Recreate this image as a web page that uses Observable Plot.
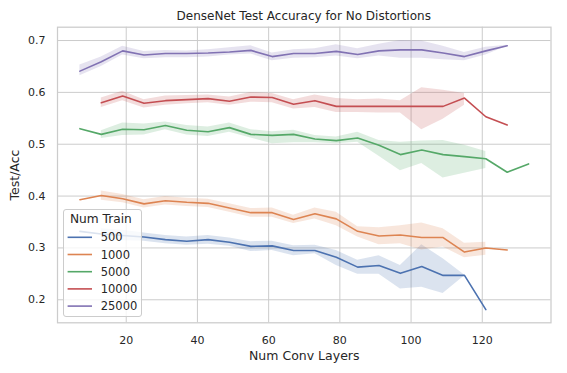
<!DOCTYPE html>
<html><head><meta charset="utf-8">
<script src="https://cdn.jsdelivr.net/npm/d3@7"></script>
<script src="https://cdn.jsdelivr.net/npm/@observablehq/plot@0.6"></script>
<style>
body{margin:0;background:#fff;font-family:"DejaVu Sans",sans-serif;color:#262626}
#wrap{position:relative;width:567px;height:373px;overflow:hidden}
#title{height:22px;box-sizing:border-box;padding-top:9px;padding-left:40.5px;line-height:14px;font-size:12px;text-align:center;white-space:nowrap}
#legend{position:absolute;left:62.7px;top:209px;width:79.6px;height:107.7px;box-sizing:border-box;border:1px solid #cccccc;border-radius:3px;background:rgba(255,255,255,0.8)}
#legend .t{position:absolute;left:6.3px;line-height:14px;white-space:nowrap;font-size:12.2px}
#legend svg.sw{position:absolute;left:0;top:0;overflow:visible}
#legend .lb{position:absolute;left:37px;line-height:14px;white-space:nowrap;font-size:11.5px}
svg{display:block}
</style>
</head><body>
<div id="wrap">
<div id="title">DenseNet Test Accuracy for No Distortions</div>
<div id="chart"></div>
<div id="legend"></div>
</div>
<script>
const xLayers = [7,13,19,25,31,37,43,49,55,61,67,73,79,85,91,97,103,109,115,121,127,133];
const seriesNames = ["500","1000","5000","10000","25000"];
const palette = ["#4c72b0","#dd8452","#55a868","#c44e52","#8172b3"];
const xTicks = [20,40,60,80,100,120];
const yTicks = [0.2,0.3,0.4,0.5,0.6,0.7];

const acc500 = [0.332,0.327,0.324,0.321,0.316,0.313,0.316,0.311,0.303,0.304,0.295,0.295,0.282,0.263,0.266,0.251,0.264,0.247,0.247,0.181,null,null];
const lo500 = [null,0.318,0.314,0.313,0.308,0.305,0.307,0.303,0.293,0.295,0.285,0.289,0.266,0.249,0.249,0.221,0.224,0.212,0.246,null,null,null];
const hi500 = [null,0.337,0.334,0.329,0.324,0.321,0.324,0.319,0.312,0.313,0.304,0.305,0.295,0.276,0.285,0.266,0.306,0.279,0.248,null,null,null];

const acc1000 = [0.393,0.401,0.395,0.385,0.391,0.388,0.386,0.377,0.368,0.368,0.355,0.366,0.356,0.332,0.323,0.325,0.320,0.320,0.292,0.300,0.296,null];
const lo1000 = [null,0.392,0.387,0.377,0.383,0.380,0.378,0.369,0.359,0.359,0.347,0.356,0.343,0.321,0.306,0.308,0.296,0.302,0.281,0.286,null,null];
const hi1000 = [null,0.410,0.403,0.393,0.399,0.396,0.394,0.385,0.376,0.377,0.363,0.377,0.369,0.341,0.339,0.343,0.348,0.337,0.309,0.311,null,null];

const acc5000 = [0.530,0.519,0.529,0.528,0.536,0.527,0.524,0.532,0.519,0.517,0.519,0.510,0.507,0.512,0.498,0.480,0.489,0.480,0.476,0.472,0.446,0.462];
const lo5000 = [null,0.511,0.517,0.518,0.528,0.518,0.515,0.523,0.512,0.501,0.503,0.503,0.501,0.504,0.477,0.449,0.463,0.435,0.444,0.453,null,null];
const hi5000 = [null,0.526,0.541,0.539,0.543,0.536,0.533,0.541,0.528,0.524,0.527,0.517,0.514,0.523,0.507,0.504,0.506,0.507,0.498,0.486,null,null];

const acc10000 = [null,0.580,0.593,0.579,0.584,0.586,0.588,0.583,0.591,0.590,0.577,0.584,0.573,0.573,0.573,0.573,0.573,0.573,0.589,0.553,0.537,null];
const lo10000 = [null,0.571,0.584,0.570,0.575,0.578,0.580,0.575,0.581,0.580,0.568,0.571,0.561,0.561,0.560,0.560,0.528,0.548,0.575,null,null,null];
const hi10000 = [null,0.589,0.602,0.586,0.593,0.594,0.595,0.591,0.600,0.598,0.586,0.595,0.588,0.586,0.587,0.584,0.609,0.604,0.598,null,null,null];

const acc25000 = [0.641,0.659,0.680,0.672,0.675,0.675,0.676,0.678,0.681,0.669,0.675,0.675,0.679,0.673,0.680,0.682,0.682,0.676,0.669,0.680,0.690,null];
const lo25000 = [0.632,0.650,0.672,0.665,0.667,0.667,0.668,0.672,0.674,0.661,0.666,0.667,0.670,0.665,0.670,0.666,0.666,0.663,0.661,0.672,0.689,null];
const hi25000 = [0.653,0.668,0.689,0.679,0.681,0.680,0.682,0.686,0.690,0.676,0.682,0.684,0.692,0.684,0.693,0.700,0.699,0.689,0.677,0.687,0.691,null];

const accs = [acc500, acc1000, acc5000, acc10000, acc25000];
const los = [lo500, lo1000, lo5000, lo10000, lo25000];
const his = [hi500, hi1000, hi5000, hi10000, hi25000];

const rows = [];
seriesNames.forEach((s, i) => {
  xLayers.forEach((x, j) => {
    rows.push({s, x, y: accs[i][j], lo: los[i][j], hi: his[i][j]});
  });
});
const lineRows = rows.filter(d => d.y != null);
const bandRows = rows.filter(d => d.lo != null && d.hi != null);

const chart = Plot.plot({
  width: 567, height: 351,
  marginTop: 4.7, marginBottom: 50.7, marginLeft: 57, marginRight: 16.5,
  style: {fontFamily: "DejaVu Sans", fontSize: "11px", color: "#262626", background: "white"},
  x: {domain: [0.7, 139.3], label: null},
  y: {domain: [0.1556, 0.7257], label: null},
  color: {domain: seriesNames, range: palette},
  marks: [
    Plot.gridX(xTicks, {stroke: "#cccccc", strokeOpacity: 1, strokeWidth: 1}),
    Plot.gridY(yTicks, {stroke: "#cccccc", strokeOpacity: 1, strokeWidth: 1}),
    Plot.frame({stroke: "#cccccc", strokeWidth: 1.25}),
    Plot.areaY(bandRows, {x: "x", y1: "lo", y2: "hi", z: "s", fill: "s", fillOpacity: 0.2}),
    Plot.lineY(lineRows, {x: "x", y: "y", z: "s", stroke: "s", strokeWidth: 1.6}),
    Plot.axisX(xTicks, {tickSize: 0, tickPadding: 13, label: null, fill: "#262626"}),
    Plot.axisY(yTicks, {tickSize: 0, tickPadding: 12, label: null, tickFormat: d3.format(".1f"), fill: "#262626"}),
    Plot.text(["Test/Acc"], {frameAnchor: "left", dx: -43, rotate: -90, textAnchor: "middle", lineAnchor: "middle", fontSize: 12.5, fill: "#262626"}),
    Plot.text(["Num Conv Layers"], {frameAnchor: "bottom", dy: 32.7, textAnchor: "middle", lineAnchor: "middle", fontSize: 12.5, fill: "#262626"})
  ]
});
document.getElementById("chart").appendChild(chart);

const leg = document.getElementById("legend");
const t = document.createElement("div");
t.className = "t"; t.textContent = "Num Train"; t.style.top = (10.3 - 1 - 7) + "px";
leg.appendChild(t);
const NS = "http://www.w3.org/2000/svg";
const swSvg = document.createElementNS(NS, "svg");
swSvg.setAttribute("class", "sw");
swSvg.setAttribute("width", "40");
swSvg.setAttribute("height", "105");
leg.appendChild(swSvg);
seriesNames.forEach((s, i) => {
  const cy = 28.3 + i * 17.2 - 1;
  const ln = document.createElementNS(NS, "line");
  ln.setAttribute("x1", 3.6); ln.setAttribute("x2", 28);
  ln.setAttribute("y1", cy); ln.setAttribute("y2", cy);
  ln.setAttribute("stroke", palette[i]); ln.setAttribute("stroke-width", 1.6);
  swSvg.appendChild(ln);
  const lb = document.createElement("div");
  lb.className = "lb"; lb.textContent = s; lb.style.top = (cy - 7) + "px";
  leg.appendChild(lb);
});
</script>
</body></html>
